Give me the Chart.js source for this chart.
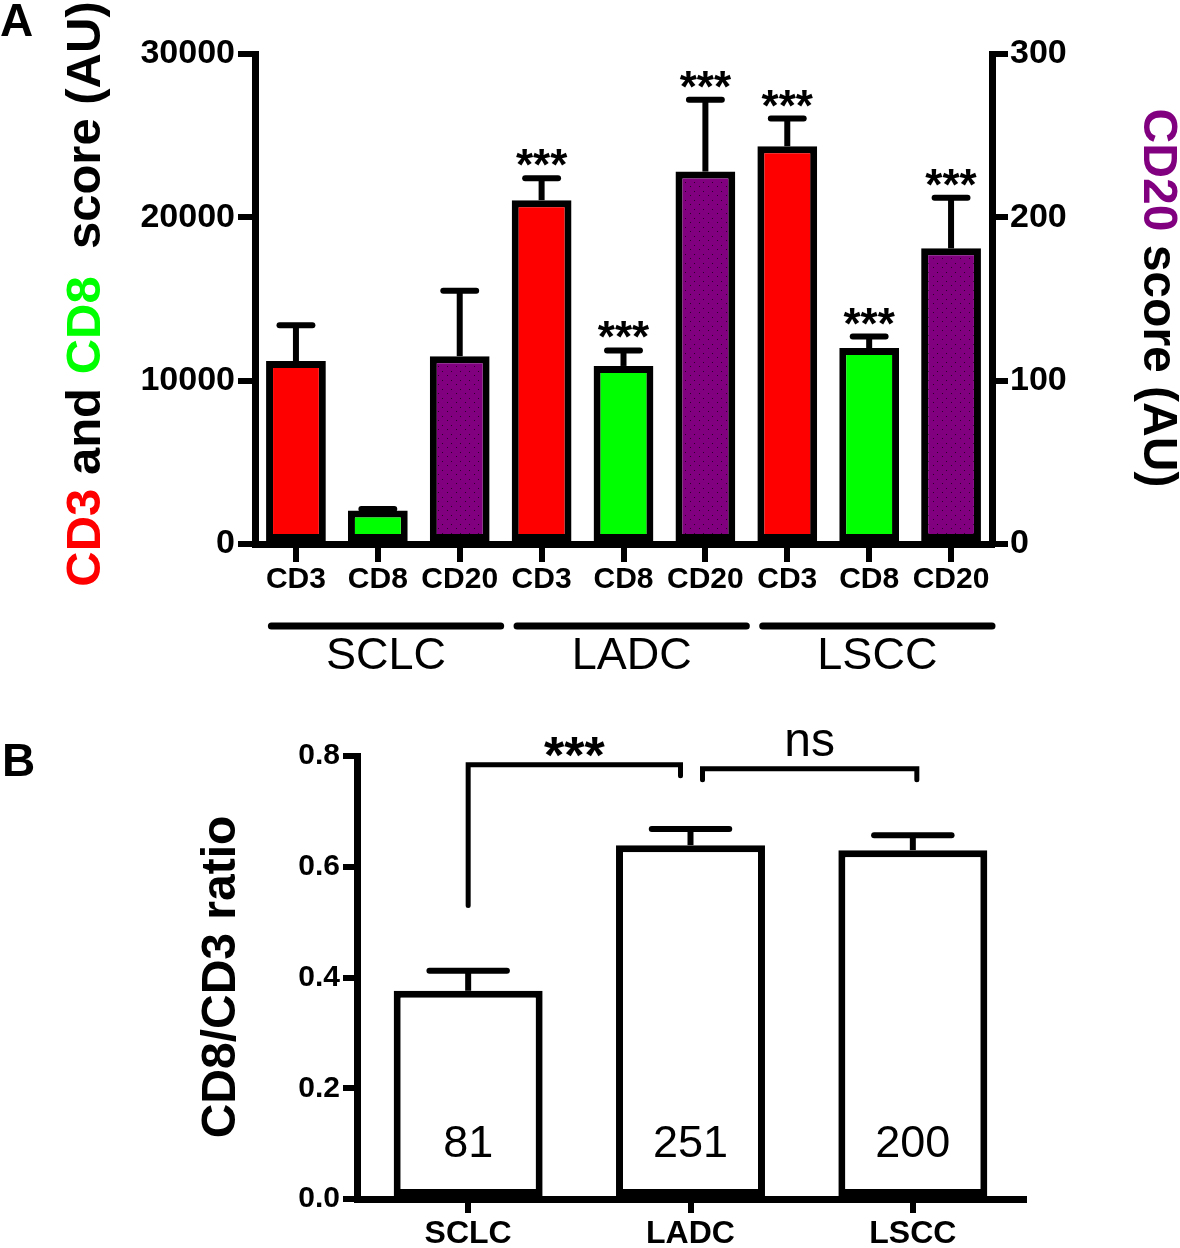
<!DOCTYPE html>
<html>
<head>
<meta charset="utf-8">
<script src="https://cdn.jsdelivr.net/npm/chart.js@4"></script>
<style>
  body { margin: 0; background: #fff; }
  #wrap { position: relative; width: 1180px; height: 1248px; }
  canvas { position: absolute; left: 0; }
  #chartA { top: 0; }
  #chartB { top: 700px; }
</style>
</head>
<body>
<div id="wrap">
  <canvas id="chartA" width="1180" height="700"></canvas>
  <canvas id="chartB" width="1180" height="548"></canvas>
</div>
<script>
// panel A: immune scores per tumour type
const groups = ["SCLC", "LADC", "LSCC"];
const markers = ["CD3", "CD8", "CD20"];
const cd3Mean = [11200, 21050, 24350];
const cd3Sem = [2200, 1350, 1700];
const cd8Mean = [2050, 10900, 12000];
const cd8Sem = [100, 950, 700];
const cd20Mean = [115, 228, 181];
const cd20Sem = [40, 44, 31];
const groupSig = ["", "***", "***"];
const leftTicks = [0, 10000, 20000, 30000];
const rightTicks = [0, 100, 200, 300];

// panel B: CD8/CD3 ratio
const ratioMean = [0.376, 0.639, 0.630];
const ratioSem = [0.036, 0.029, 0.027];
const caseCounts = [81, 251, 200];
const ratioTicks = [0, 0.2, 0.4, 0.6, 0.8];
const compLabels = ["***", "ns"];
const compLevels = [0.784, 0.777];

const RED = "#ff0000", GREEN = "#00ff00", PURPLE = "#800080";
Chart.defaults.font.family = "'Liberation Sans', Arial, sans-serif";
Chart.defaults.color = "#000";

function dotPattern(ctx) {
  const c = document.createElement("canvas");
  c.width = 9; c.height = 9;
  const g = c.getContext("2d");
  g.fillStyle = PURPLE;
  g.fillRect(0, 0, 9, 9);
  g.fillStyle = "#2b002b";
  g.fillRect(1, 2, 1, 1);
  g.fillRect(6, 6, 1, 1);
  return ctx.createPattern(c, "repeat");
}

function drawRotated(ctx, segs, cx, cy, angle, font) {
  ctx.save();
  ctx.font = font;
  const total = segs.reduce((s, seg) => s + ctx.measureText(seg[0]).width, 0);
  ctx.translate(cx, cy);
  ctx.rotate(angle);
  ctx.textBaseline = "middle";
  ctx.textAlign = "left";
  let x = -total / 2;
  for (const [t, c] of segs) {
    ctx.fillStyle = c;
    ctx.fillText(t, x, 0);
    x += ctx.measureText(t).width;
  }
  ctx.restore();
}

// upward error bars + significance stars
const errorBars = {
  id: "errorBars",
  afterDatasetsDraw(chart, args, opts) {
    const ctx = chart.ctx;
    chart.data.datasets.forEach((ds, di) => {
      const meta = chart.getDatasetMeta(di);
      const yScale = chart.scales[meta.yAxisID];
      meta.data.forEach((bar, i) => {
        const v = ds.data[i];
        if (v == null) return;
        const yTop = yScale.getPixelForValue(v + ds.sem[i]);
        const cap = bar.width * opts.cap;
        ctx.save();
        ctx.strokeStyle = "#000";
        ctx.lineWidth = opts.width;
        ctx.beginPath();
        ctx.moveTo(bar.x, bar.y);
        ctx.lineTo(bar.x, yTop);
        ctx.stroke();
        ctx.lineCap = "round";
        ctx.beginPath();
        ctx.moveTo(bar.x - cap / 2, yTop);
        ctx.lineTo(bar.x + cap / 2, yTop);
        ctx.stroke();
        if (ds.stars && ds.stars[i]) {
          ctx.fillStyle = "#000";
          ctx.font = "bold 44px 'Liberation Sans', Arial";
          ctx.textAlign = "center";
          ctx.textBaseline = "alphabetic";
          ctx.fillText(ds.stars[i], bar.x, yTop + 2);
        }
        ctx.restore();
      });
    });
  }
};

// ---------- panel A ----------
const labelsA = groups.flatMap(() => markers);
const leftData = [], leftSem = [], leftColors = [], rightData = [], rightSem = [];
const starsLeft = [], starsRight = [];
groups.forEach((g, i) => {
  leftData.push(cd3Mean[i], cd8Mean[i], null);
  leftSem.push(cd3Sem[i], cd8Sem[i], null);
  leftColors.push(RED, GREEN, "#fff");
  rightData.push(null, null, cd20Mean[i]);
  rightSem.push(null, null, cd20Sem[i]);
  starsLeft.push(groupSig[i], groupSig[i], "");
  starsRight.push("", "", groupSig[i]);
});

const ctxA = document.getElementById("chartA").getContext("2d");

const decorA = {
  id: "decorA",
  afterDraw(chart) {
    const ctx = chart.ctx;
    const xs = chart.scales.x;
    const step = xs.getPixelForValue(1) - xs.getPixelForValue(0);
    ctx.save();
    ctx.fillStyle = "#000";
    ctx.font = "bold 46px 'Liberation Sans', Arial";
    ctx.textAlign = "left";
    ctx.textBaseline = "top";
    ctx.fillText("A", 0, 0);

    drawRotated(ctx, [["CD3", RED], [" and ", "#000"], ["CD8", GREEN], ["  score (AU)", "#000"]],
      86, 294, -Math.PI / 2, "bold 49px 'Liberation Sans', Arial");
    drawRotated(ctx, [["CD20", PURPLE], [" score (AU)", "#000"]],
      1157, 298, Math.PI / 2, "bold 48px 'Liberation Sans', Arial");

    // group bars under the category labels
    ctx.strokeStyle = "#000";
    ctx.lineWidth = 7;
    ctx.lineCap = "round";
    ctx.font = "45px 'Liberation Sans', Arial";
    ctx.textAlign = "center";
    ctx.textBaseline = "middle";
    groups.forEach((g, i) => {
      const a = xs.getPixelForValue(i * 3) - 0.3 * step;
      const b = xs.getPixelForValue(i * 3 + 2) + 0.5 * step;
      ctx.beginPath();
      ctx.moveTo(a, 626);
      ctx.lineTo(b, 626);
      ctx.stroke();
      ctx.fillText(g, (a + b) / 2, 657);
    });
    ctx.restore();
  }
};

const axisLine = { color: "#000", width: 7 };
const tickGrid = (len) => ({ drawOnChartArea: false, color: "#000", lineWidth: 6, tickLength: len });

new Chart(ctxA, {
  type: "bar",
  data: {
    labels: labelsA,
    datasets: [
      {
        label: "CD3 / CD8",
        data: leftData,
        sem: leftSem,
        stars: starsLeft,
        yAxisID: "y",
        backgroundColor: leftColors,
        borderColor: "#000",
        borderWidth: 7,
        borderSkipped: false,
        grouped: false,
        barPercentage: 0.73,
        categoryPercentage: 1
      },
      {
        label: "CD20",
        data: rightData,
        sem: rightSem,
        stars: starsRight,
        yAxisID: "y2",
        backgroundColor: dotPattern(ctxA),
        borderColor: "#000",
        borderWidth: 7,
        borderSkipped: false,
        grouped: false,
        barPercentage: 0.73,
        categoryPercentage: 1
      }
    ]
  },
  options: {
    responsive: false,
    animation: false,
    layout: { padding: { top: 54 } },
    plugins: {
      legend: { display: false },
      tooltip: { enabled: false },
      errorBars: { cap: 0.55, width: 6 }
    },
    scales: {
      x: {
        grid: Object.assign(tickGrid(18), { offset: false }),
        border: axisLine,
        ticks: { font: { size: 30, weight: "bold" }, padding: 0, maxRotation: 0, autoSkip: false },
        afterFit(s) { s.height = 156; }
      },
      y: {
        position: "left",
        min: 0,
        max: 30000,
        afterBuildTicks(s) { s.ticks = leftTicks.map(v => ({ value: v })); },
        grid: tickGrid(17),
        border: axisLine,
        ticks: { font: { size: 34, weight: "bold" }, padding: 3, callback: v => String(v) },
        afterFit(s) { s.width = 255; }
      },
      y2: {
        position: "right",
        min: 0,
        max: 300,
        afterBuildTicks(s) { s.ticks = rightTicks.map(v => ({ value: v })); },
        grid: tickGrid(16),
        border: axisLine,
        ticks: { font: { size: 34, weight: "bold" }, padding: 2, callback: v => String(v) },
        afterFit(s) { s.width = 188; }
      }
    }
  },
  plugins: [errorBars, decorA]
});

// ---------- panel B ----------
const decorB = {
  id: "decorB",
  afterDraw(chart) {
    const ctx = chart.ctx;
    const xs = chart.scales.x, ys = chart.scales.y;
    ctx.save();
    ctx.fillStyle = "#000";
    ctx.font = "bold 46px 'Liberation Sans', Arial";
    ctx.textAlign = "left";
    ctx.textBaseline = "top";
    ctx.fillText("B", 2, 40);

    drawRotated(ctx, [["CD8/CD3 ratio", "#000"]], 222, 277, -Math.PI / 2,
      "bold 48px 'Liberation Sans', Arial");

    // case counts inside bars
    ctx.font = "45px 'Liberation Sans', Arial";
    ctx.textAlign = "center";
    ctx.textBaseline = "middle";
    caseCounts.forEach((n, i) => {
      ctx.fillText(String(n), xs.getPixelForValue(i), ys.getPixelForValue(0.098));
    });

    // comparison brackets
    const x0 = xs.getPixelForValue(0), x1 = xs.getPixelForValue(1), x2 = xs.getPixelForValue(2);
    const b1 = ys.getPixelForValue(compLevels[0]);
    const b2 = ys.getPixelForValue(compLevels[1]);
    ctx.strokeStyle = "#000";
    ctx.lineWidth = 5;
    ctx.lineCap = "round";
    ctx.lineJoin = "miter";
    ctx.beginPath();
    ctx.moveTo(x0, ys.getPixelForValue(0.53));
    ctx.lineTo(x0, b1);
    ctx.lineTo(x1 - 10, b1);
    ctx.lineTo(x1 - 10, b1 + 11);
    ctx.stroke();
    ctx.beginPath();
    ctx.moveTo(x1 + 12, b2 + 11);
    ctx.lineTo(x1 + 12, b2);
    ctx.lineTo(x2 + 4, b2);
    ctx.lineTo(x2 + 4, b2 + 11);
    ctx.stroke();

    ctx.textBaseline = "alphabetic";
    ctx.font = "bold 52px 'Liberation Sans', Arial";
    ctx.fillText(compLabels[0], (x0 + x1 - 10) / 2, b1 + 8);
    ctx.font = "48px 'Liberation Sans', Arial";
    ctx.fillText(compLabels[1], (x1 + x2 + 16) / 2, b2 - 13);
    ctx.restore();
  }
};

new Chart(document.getElementById("chartB"), {
  type: "bar",
  data: {
    labels: groups,
    datasets: [{
      label: "CD8/CD3 ratio",
      data: ratioMean,
      sem: ratioSem,
      backgroundColor: "#fff",
      borderColor: "#000",
      borderWidth: 7,
      borderSkipped: false,
      barPercentage: 0.67,
      categoryPercentage: 1
    }]
  },
  options: {
    responsive: false,
    animation: false,
    layout: { padding: { top: 56, right: 156 } },
    plugins: {
      legend: { display: false },
      tooltip: { enabled: false },
      errorBars: { cap: 0.52, width: 6 }
    },
    scales: {
      x: {
        grid: Object.assign(tickGrid(14), { offset: false }),
        border: axisLine,
        ticks: { font: { size: 32, weight: "bold" }, padding: 2, maxRotation: 0 },
        afterFit(s) { s.height = 49; }
      },
      y: {
        min: 0,
        max: 0.8,
        afterBuildTicks(s) { s.ticks = ratioTicks.map(v => ({ value: v })); },
        grid: tickGrid(14),
        border: axisLine,
        ticks: { font: { size: 30, weight: "bold" }, padding: 3, callback: v => v.toFixed(1) },
        afterFit(s) { s.width = 357; }
      }
    }
  },
  plugins: [errorBars, decorB]
});
</script>
</body>
</html>
